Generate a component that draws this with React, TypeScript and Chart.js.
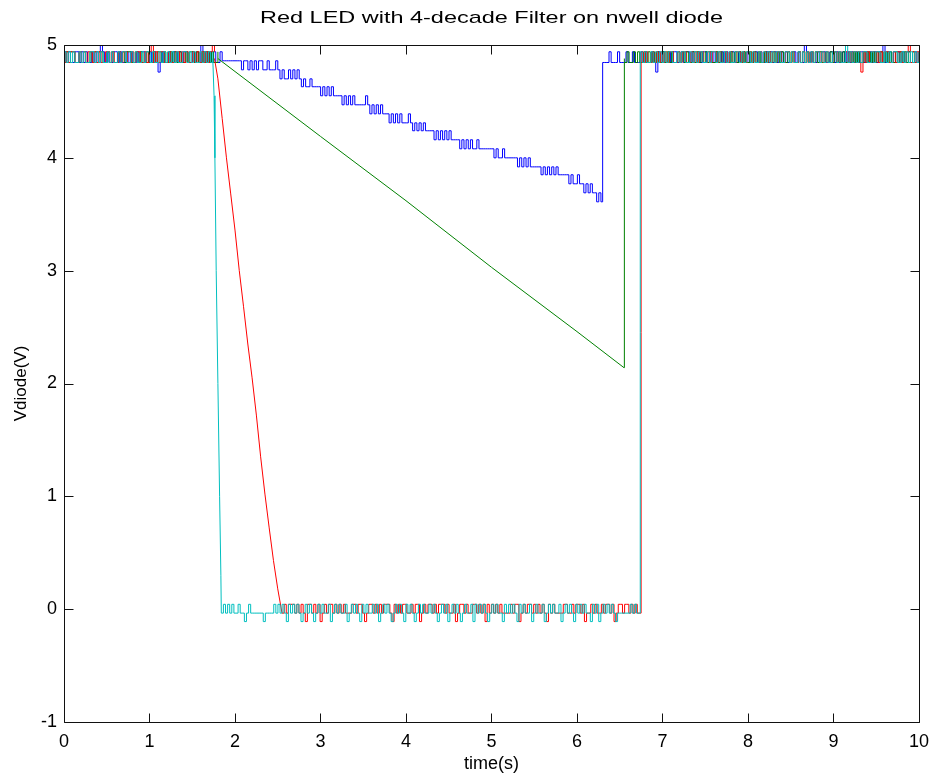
import React, { useEffect, useRef } from 'react';
import { Chart, registerables } from 'chart.js';

Chart.register(...registerables);

const TITLE = 'Red LED with 4-decade Filter on nwell diode';
const X_LABEL = 'time(s)';
const Y_LABEL = 'Vdiode(V)';
const X_MIN = 0;
const X_MAX = 10;
const Y_MIN = -1;
const Y_MAX = 5;

// quantised signal levels (V)
const HIGH_LEVELS = [4.76, 4.845, 4.94, 5.0]; // codes 0..3
const LOW_LEVELS = [-0.11, -0.035, 0.043]; // codes 0..2
const BLUE_STAIR_LEVELS = [4.86, 4.78, 4.7, 4.63, 4.55, 4.47, 4.39, 4.31, 4.24, 4.16, 4.08, 4.0, 3.92, 3.85, 3.77, 3.69, 3.61]; // codes 0..g

// blue series
const BLUE_PRE = '2121122121' + '2112121321' + '2112212112' + '1211212211' + '2121012112' + '1221212211' + '2121312121' + '2112';
const BLUE_STAIR =
  '00000000010010101001' + '1011101212' + '2121212323' + '323333434343' + '444454545455' +
  '555456565656' + '66767676' + '777678787878' + '888989898989' + '999a9a9a9aa9' +
  'aaaaaaababbabb' + 'bbbbcbcbcbcc' + 'cccdcdcdcdcd' + 'ddddedeede' + 'efefef' + 'fgfg';
const BLUE_POST =
  '1112111211' + '1211211121' + '2112102121' + '1212211212' + '2121121221' + '1212112121' + '2211212121' +
  '1221211212' + '1212212112' + '2121132121' + '1212211221' + '2112121212' + '1221212121' + '2131221212' + '1212211212';
const BLUE_TIMES = { pre: [0, 1.825], stair: [1.85, 6.28], post: [6.3, 10] };

// green series
const GREEN_PRE = '1212211212' + '1121212211' + '2121121212' + '2112121121' + '1212212112' + '1212112122' + '1211212121' + '12';
const GREEN_RAMP_T = [1.8, 3.0, 4.0, 5.0, 6.0, 6.55, 6.552, 6.556];
const GREEN_RAMP_V = [4.88, 4.19, 3.62, 3.03, 2.46, 2.14, 3.52, 4.88];
const GREEN_POST =
  '1211212112' + '1212121121' + '2121121212' + '1121212121' + '2112121211' + '2121212112' + '1212112121' +
  '2121211212' + '1121212121' + '2121121212' + '1212112121' + '2112121212' + '1212121121' + '2121212112';
const GREEN_TIMES = { pre: [0, 1.8], post: [6.56, 10] };

// red series
const RED_PRE = '1212211212' + '1221212112' + '2121121221' + '1212211212' + '3121221121' + '1221212112' + '1212121232';
const RED_FALL_T = [1.76, 1.8, 1.85, 1.9, 1.95, 2.0, 2.05, 2.1, 2.15, 2.2, 2.25, 2.3, 2.35, 2.4, 2.45, 2.5, 2.55];
const RED_FALL_V = [4.88, 4.7, 4.35, 4.0, 3.68, 3.36, 3.0, 2.68, 2.35, 2.05, 1.72, 1.35, 1.02, 0.72, 0.43, 0.18, -0.035];
const RED_LOW =
  '1212221212' + '1022121201' + '2122121212' + '1112212210' + '1221212122' + '2102121221' + '1212201212' +
  '2121222121' + '1201221211' + '2212120212' + '1212111121' + '2201212212' + '1212102121' + '1112211212' +
  '2120112121' + '1212212012' + '2122121211';
const RED_POST =
  '2121121212' + '1212211212' + '2112121221' + '1212212112' + '1211221212' + '2121121212' + '1212211221' +
  '2112121212' + '1221212112' + '2121121212' + '1202121212' + '1212211212' + '2112312121';
const RED_TIMES = { pre: [0, 1.76], low: [2.55, 6.73], post: [6.75, 10] };

// cyan series
const CYAN_PRE = '2121211212' + '1122121211' + '2121121221' + '1212112122' + '1211212121' + '2121122121' + '2112121212';
const CYAN_FALL_T = [1.74, 1.755, 1.765, 1.78, 1.8, 1.82, 1.835, 1.84];
const CYAN_FALL_V = [4.88, 4.55, 4.0, 3.0, 2.0, 1.0, 0.3, -0.035];
const CYAN_LOW =
  '1212121121' + '1012111111' + '0111121212' + '1021212101' + '2121012121' + '1201212112' + '0121210212' +
  '1121201212' + '1012121021' + '2101212112' + '1210121201' + '2121012112' + '0212121012' + '1211021212' +
  '1021211201' + '2112012121' + '1201212102' + '1212110212' + '0121212101' + '1111121211';
const CYAN_POST =
  '2121121212' + '1212211212' + '2112121221' + '1212212112' + '1211221212' + '2121121212' + '1212211221' +
  '2112121212' + '1221212112' + '2121131212' + '1212211212' + '2112121221' + '1212121212';
const CYAN_TIMES = { pre: [0, 1.74], low: [1.84, 6.72], post: [6.74, 10] };

const COLORS = { blue: '#0000ff', green: '#008000', red: '#ff0000', cyan: '#00bfbf' };
const FONT = "'Liberation Sans', Arial, Helvetica, sans-serif";

type P = { x: number; y: number | null };

function decode(span: number[], codes: string, levels: number[]): P[] {
  const n = codes.length;
  const out: P[] = [];
  for (let i = 0; i < n; i++) {
    out.push({ x: span[0] + (i * (span[1] - span[0])) / (n - 1), y: levels[parseInt(codes[i], 36)] });
  }
  return out;
}
function pairs(t: number[], v: number[]): P[] {
  return t.map((x, i) => ({ x, y: v[i] }));
}
const gap = (x: number): P => ({ x, y: null });

const boxPlugin = {
  id: 'matlabBox',
  afterDatasetsDraw(chart: any) {
    const { ctx, chartArea, scales } = chart;
    const { left, right, top, bottom } = chartArea;
    const L = Math.round(left) + 0.5;
    const R = Math.round(right) + 0.5;
    const T = Math.round(top) + 0.5;
    const B = Math.round(bottom) + 0.5;
    ctx.save();
    ctx.strokeStyle = '#111';
    ctx.lineWidth = 1;
    ctx.beginPath();
    ctx.rect(L, T, R - L, B - T);
    const tick = 9;
    scales.x.ticks.forEach((t: any) => {
      const px = Math.round(scales.x.getPixelForValue(t.value)) + 0.5;
      ctx.moveTo(px, B);
      ctx.lineTo(px, B - tick);
      ctx.moveTo(px, T);
      ctx.lineTo(px, T + tick);
    });
    scales.y.ticks.forEach((t: any) => {
      const py = Math.round(scales.y.getPixelForValue(t.value)) + 0.5;
      ctx.moveTo(L, py);
      ctx.lineTo(L + tick, py);
      ctx.moveTo(R, py);
      ctx.lineTo(R - tick, py);
    });
    ctx.stroke();
    // title centred over the axes box
    ctx.fillStyle = '#000';
    ctx.font = `17px ${FONT}`;
    ctx.textAlign = 'center';
    ctx.textBaseline = 'middle';
    ctx.translate((left + right) / 2, 18);
    ctx.scale(1.38, 1);
    ctx.fillText(TITLE, 0, 0);
    ctx.restore();
  },
};

export default function App() {
  const ref = useRef<HTMLCanvasElement>(null);

  useEffect(() => {
    if (!ref.current) return;

    const blue = [
      ...decode(BLUE_TIMES.pre, BLUE_PRE, HIGH_LEVELS),
      ...decode(BLUE_TIMES.stair, BLUE_STAIR, BLUE_STAIR_LEVELS),
      ...decode(BLUE_TIMES.post, BLUE_POST, HIGH_LEVELS),
    ];
    const greenNoise = [
      ...decode(GREEN_TIMES.pre, GREEN_PRE, HIGH_LEVELS),
      gap(4),
      ...decode(GREEN_TIMES.post, GREEN_POST, HIGH_LEVELS),
    ];
    const greenRamp = pairs(GREEN_RAMP_T, GREEN_RAMP_V);
    const redNoise = [
      ...decode(RED_TIMES.pre, RED_PRE, HIGH_LEVELS),
      gap(2.2),
      ...decode(RED_TIMES.low, RED_LOW, LOW_LEVELS),
      ...decode(RED_TIMES.post, RED_POST, HIGH_LEVELS),
    ];
    const redFall = pairs(RED_FALL_T, RED_FALL_V);
    const cyanNoise = [
      ...decode(CYAN_TIMES.pre, CYAN_PRE, HIGH_LEVELS),
      gap(1.8),
      ...decode(CYAN_TIMES.low, CYAN_LOW, LOW_LEVELS),
      ...decode(CYAN_TIMES.post, CYAN_POST, HIGH_LEVELS),
    ];
    const cyanFall = pairs(CYAN_FALL_T, CYAN_FALL_V);

    const line = (data: P[], color: string, order: number, stepped: boolean) => ({
      data,
      borderColor: color,
      backgroundColor: color,
      borderWidth: 1,
      pointRadius: 0,
      pointHoverRadius: 0,
      fill: false,
      tension: 0,
      stepped: stepped ? 'before' : false,
      spanGaps: false,
      order,
    });

    const chart = new Chart(ref.current, {
      type: 'line',
      data: {
        datasets: [
          line(cyanNoise, COLORS.cyan, 0, true),
          line(cyanFall, COLORS.cyan, 0, false),
          line(redNoise, COLORS.red, 1, true),
          line(redFall, COLORS.red, 1, false),
          line(greenNoise, COLORS.green, 2, true),
          line(greenRamp, COLORS.green, 2, false),
          line(blue, COLORS.blue, 3, true),
        ] as any,
      },
      options: {
        responsive: false,
        animation: false,
        devicePixelRatio: 1,
        parsing: false,
        normalized: true,
        events: [],
        layout: { padding: { left: 0, right: 15, top: 45, bottom: 0 } },
        plugins: {
          legend: { display: false },
          tooltip: { enabled: false },
          title: { display: false },
        },
        scales: {
          x: {
            type: 'linear',
            min: X_MIN,
            max: X_MAX,
            afterFit: (s: any) => {
              s.height = 56;
            },
            grid: { display: false, drawTicks: false },
            border: { display: false },
            ticks: {
              stepSize: 1,
              padding: 9,
              color: '#000',
              maxRotation: 0,
              autoSkip: false,
              font: { family: FONT, size: 18 },
            },
            title: {
              display: true,
              text: X_LABEL,
              color: '#000',
              font: { family: FONT, size: 18 },
              padding: { top: 0, bottom: 3 },
            },
          },
          y: {
            type: 'linear',
            min: Y_MIN,
            max: Y_MAX,
            afterFit: (s: any) => {
              s.width = 64;
            },
            grid: { display: false, drawTicks: false },
            border: { display: false },
            ticks: {
              stepSize: 1,
              padding: 7,
              color: '#000',
              font: { family: FONT, size: 18 },
            },
            title: {
              display: true,
              text: Y_LABEL,
              color: '#000',
              font: { family: FONT, size: 17 },
              padding: { top: 11, bottom: 0 },
            },
          },
        },
      },
      plugins: [boxPlugin],
    });
    return () => chart.destroy();
  }, []);

  return (
    <div style={{ position: 'absolute', left: 0, top: 0, width: 938, height: 778, background: '#fff' }}>
      <canvas ref={ref} width={938} height={778} style={{ display: 'block', width: 938, height: 778 }} />
    </div>
  );
}
